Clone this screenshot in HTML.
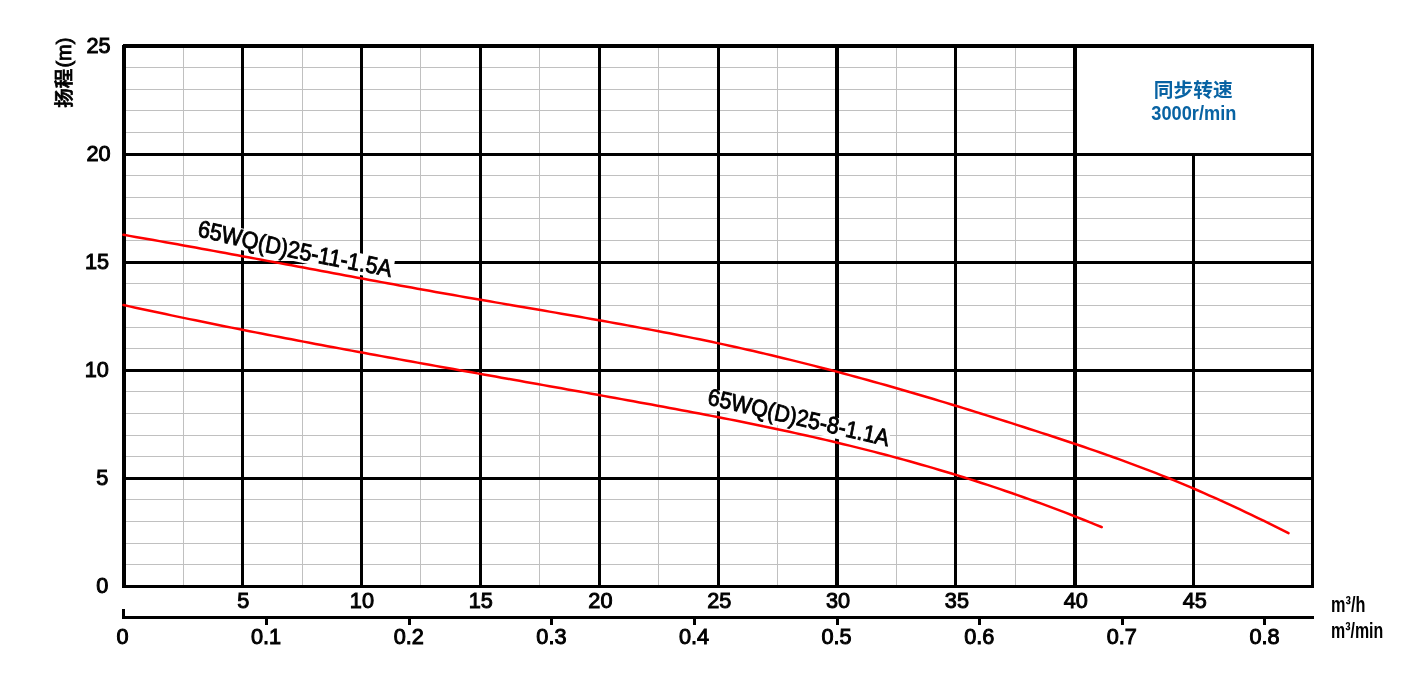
<!DOCTYPE html><html><head><meta charset="utf-8"><title>65WQ(D)25 performance curve</title>
<style>html,body{margin:0;padding:0;background:#fff;}body{width:1406px;height:678px;overflow:hidden;}svg{display:block;}text{font-family:"Liberation Sans","Noto Sans CJK SC",sans-serif;}</style></head><body>
<svg width="1406" height="678" viewBox="0 0 1406 678">
<rect width="1406" height="678" fill="#fff"/>
<g fill="#c0c0c0" shape-rendering="crispEdges"><rect x="183" y="48" width="1" height="537"/><rect x="302" y="48" width="1" height="537"/><rect x="420" y="48" width="1" height="537"/><rect x="539" y="48" width="1" height="537"/><rect x="658" y="48" width="1" height="537"/><rect x="777" y="48" width="1" height="537"/><rect x="896" y="48" width="1" height="537"/><rect x="1015" y="48" width="1" height="537"/><rect x="126" y="564" width="1185" height="1"/><rect x="126" y="543" width="1185" height="1"/><rect x="126" y="521" width="1185" height="1"/><rect x="126" y="499" width="1185" height="1"/><rect x="126" y="456" width="1185" height="1"/><rect x="126" y="435" width="1185" height="1"/><rect x="126" y="413" width="1185" height="1"/><rect x="126" y="391" width="1185" height="1"/><rect x="126" y="348" width="1185" height="1"/><rect x="126" y="327" width="1185" height="1"/><rect x="126" y="305" width="1185" height="1"/><rect x="126" y="283" width="1185" height="1"/><rect x="126" y="240" width="1185" height="1"/><rect x="126" y="218" width="1185" height="1"/><rect x="126" y="197" width="1185" height="1"/><rect x="126" y="175" width="1185" height="1"/><rect x="126" y="132" width="947" height="1"/><rect x="126" y="110" width="947" height="1"/><rect x="126" y="89" width="947" height="1"/><rect x="126" y="67" width="947" height="1"/></g>
<g fill="#000" shape-rendering="crispEdges"><rect x="241" y="44" width="3" height="544"/><rect x="360" y="44" width="3" height="544"/><rect x="479" y="44" width="3" height="544"/><rect x="598" y="44" width="3" height="544"/><rect x="717" y="44" width="3" height="544"/><rect x="835" y="44" width="4" height="544"/><rect x="954" y="44" width="3" height="544"/><rect x="1073" y="44" width="4" height="544"/><rect x="1192" y="153" width="3" height="435"/><rect x="122" y="153" width="1192" height="3"/><rect x="122" y="261" width="1192" height="3"/><rect x="122" y="369" width="1192" height="3"/><rect x="122" y="477" width="1192" height="3"/><rect x="123" y="44" width="1191" height="4"/><rect x="122" y="45" width="4" height="543"/><rect x="1311" y="44" width="3" height="544"/><rect x="123" y="585" width="1191" height="3"/><rect x="122" y="616" width="1192" height="3"/><rect x="122" y="609" width="3" height="8"/><rect x="265" y="618" width="3" height="7"/><rect x="408" y="618" width="3" height="7"/><rect x="550" y="618" width="3" height="7"/><rect x="693" y="618" width="3" height="7"/><rect x="836" y="618" width="3" height="7"/><rect x="978" y="618" width="3" height="7"/><rect x="1121" y="618" width="3" height="7"/><rect x="1263" y="618" width="3" height="7"/></g>
<g transform="translate(197.00,236.10) scale(0.910,1) rotate(10.80)"><rect x="2.00" y="-16.80" width="216.22" height="21.40" fill="#fff"/></g>
<g transform="translate(706.70,404.30) scale(0.910,1) rotate(11.90)"><rect x="0.50" y="-16.40" width="202.77" height="20.70" fill="#fff"/></g>
<g fill="none" stroke="#ff0000" stroke-width="2.5" stroke-linecap="round" stroke-linejoin="round">
<path d="M123.5,234.83 L129.5,235.86 L135.5,236.90 L141.5,237.94 L147.5,238.99 L153.5,240.05 L159.5,241.11 L165.5,242.18 L171.5,243.25 L177.5,244.32 L183.5,245.40 L189.5,246.49 L195.5,247.57 L201.5,248.67 L207.5,249.76 L213.5,250.86 L219.5,251.96 L225.5,253.07 L231.5,254.17 L237.5,255.28 L243.5,256.40 L249.5,257.51 L255.5,258.63 L261.5,259.74 L267.5,260.86 L273.5,261.98 L279.5,263.11 L285.5,264.23 L291.5,265.35 L297.5,266.47 L303.5,267.60 L309.5,268.72 L315.5,269.84 L321.5,270.97 L327.5,272.09 L333.5,273.21 L339.5,274.33 L345.5,275.44 L351.5,276.56 L357.5,277.68 L363.5,278.79 L369.5,279.90 L375.5,281.01 L381.5,282.11 L387.5,283.21 L393.5,284.31 L399.5,285.41 L405.5,286.50 L411.5,287.59 L417.5,288.67 L423.5,289.75 L429.5,290.83 L435.5,291.90 L441.5,292.97 L447.5,294.03 L453.5,295.08 L459.5,296.14 L465.5,297.18 L471.5,298.22 L477.5,299.26 L483.5,300.30 L489.5,301.33 L495.5,302.36 L501.5,303.39 L507.5,304.42 L513.5,305.44 L519.5,306.47 L525.5,307.49 L531.5,308.52 L537.5,309.55 L543.5,310.58 L549.5,311.61 L555.5,312.64 L561.5,313.68 L567.5,314.71 L573.5,315.76 L579.5,316.80 L585.5,317.86 L591.5,318.91 L597.5,319.97 L603.5,321.04 L609.5,322.12 L615.5,323.20 L621.5,324.29 L627.5,325.39 L633.5,326.49 L639.5,327.61 L645.5,328.73 L651.5,329.86 L657.5,331.01 L663.5,332.16 L669.5,333.33 L675.5,334.50 L681.5,335.69 L687.5,336.89 L693.5,338.11 L699.5,339.34 L705.5,340.58 L711.5,341.84 L717.5,343.11 L723.5,344.40 L729.5,345.70 L735.5,347.02 L741.5,348.35 L747.5,349.71 L753.5,351.07 L759.5,352.46 L765.5,353.86 L771.5,355.28 L777.5,356.72 L783.5,358.17 L789.5,359.63 L795.5,361.12 L801.5,362.61 L807.5,364.13 L813.5,365.65 L819.5,367.20 L825.5,368.75 L831.5,370.32 L837.5,371.91 L843.5,373.51 L849.5,375.12 L855.5,376.75 L861.5,378.39 L867.5,380.04 L873.5,381.70 L879.5,383.38 L885.5,385.07 L891.5,386.78 L897.5,388.49 L903.5,390.22 L909.5,391.96 L915.5,393.71 L921.5,395.47 L927.5,397.25 L933.5,399.03 L939.5,400.83 L945.5,402.64 L951.5,404.45 L957.5,406.28 L963.5,408.12 L969.5,409.97 L975.5,411.82 L981.5,413.69 L987.5,415.57 L993.5,417.45 L999.5,419.34 L1005.5,421.25 L1011.5,423.16 L1017.5,425.08 L1023.5,427.01 L1029.5,428.94 L1035.5,430.89 L1041.5,432.84 L1047.5,434.80 L1053.5,436.76 L1059.5,438.74 L1065.5,440.73 L1071.5,442.74 L1077.5,444.76 L1083.5,446.79 L1089.5,448.84 L1095.5,450.91 L1101.5,453.00 L1107.5,455.12 L1113.5,457.25 L1119.5,459.41 L1125.5,461.60 L1131.5,463.81 L1137.5,466.05 L1143.5,468.32 L1149.5,470.62 L1155.5,472.95 L1161.5,475.32 L1167.5,477.72 L1173.5,480.16 L1179.5,482.63 L1185.5,485.14 L1191.5,487.69 L1197.5,490.27 L1203.5,492.88 L1209.5,495.53 L1215.5,498.21 L1221.5,500.92 L1227.5,503.66 L1233.5,506.44 L1239.5,509.24 L1245.5,512.07 L1251.5,514.93 L1257.5,517.82 L1263.5,520.74 L1269.5,523.68 L1275.5,526.65 L1281.5,529.64 L1287.5,532.66 L1288.5,533.17"/>
<path d="M123.5,305.04 L129.5,306.35 L135.5,307.66 L141.5,308.96 L147.5,310.25 L153.5,311.54 L159.5,312.81 L165.5,314.09 L171.5,315.35 L177.5,316.61 L183.5,317.86 L189.5,319.10 L195.5,320.34 L201.5,321.57 L207.5,322.79 L213.5,324.01 L219.5,325.22 L225.5,326.43 L231.5,327.63 L237.5,328.82 L243.5,330.01 L249.5,331.19 L255.5,332.37 L261.5,333.55 L267.5,334.72 L273.5,335.88 L279.5,337.04 L285.5,338.19 L291.5,339.34 L297.5,340.49 L303.5,341.63 L309.5,342.76 L315.5,343.90 L321.5,345.02 L327.5,346.15 L333.5,347.27 L339.5,348.39 L345.5,349.50 L351.5,350.61 L357.5,351.72 L363.5,352.82 L369.5,353.92 L375.5,355.02 L381.5,356.12 L387.5,357.21 L393.5,358.30 L399.5,359.39 L405.5,360.48 L411.5,361.56 L417.5,362.64 L423.5,363.72 L429.5,364.80 L435.5,365.88 L441.5,366.95 L447.5,368.03 L453.5,369.10 L459.5,370.17 L465.5,371.24 L471.5,372.31 L477.5,373.38 L483.5,374.45 L489.5,375.52 L495.5,376.59 L501.5,377.65 L507.5,378.72 L513.5,379.79 L519.5,380.85 L525.5,381.92 L531.5,382.99 L537.5,384.06 L543.5,385.12 L549.5,386.19 L555.5,387.26 L561.5,388.33 L567.5,389.41 L573.5,390.48 L579.5,391.55 L585.5,392.63 L591.5,393.71 L597.5,394.79 L603.5,395.87 L609.5,396.95 L615.5,398.04 L621.5,399.12 L627.5,400.21 L633.5,401.30 L639.5,402.40 L645.5,403.49 L651.5,404.59 L657.5,405.70 L663.5,406.81 L669.5,407.92 L675.5,409.04 L681.5,410.16 L687.5,411.29 L693.5,412.42 L699.5,413.56 L705.5,414.71 L711.5,415.87 L717.5,417.03 L723.5,418.20 L729.5,419.38 L735.5,420.58 L741.5,421.78 L747.5,422.99 L753.5,424.21 L759.5,425.44 L765.5,426.69 L771.5,427.95 L777.5,429.22 L783.5,430.50 L789.5,431.80 L795.5,433.11 L801.5,434.44 L807.5,435.78 L813.5,437.13 L819.5,438.51 L825.5,439.89 L831.5,441.30 L837.5,442.72 L843.5,444.16 L849.5,445.62 L855.5,447.10 L861.5,448.59 L867.5,450.11 L873.5,451.65 L879.5,453.20 L885.5,454.78 L891.5,456.38 L897.5,457.99 L903.5,459.63 L909.5,461.30 L915.5,462.98 L921.5,464.68 L927.5,466.41 L933.5,468.16 L939.5,469.93 L945.5,471.72 L951.5,473.54 L957.5,475.38 L963.5,477.24 L969.5,479.13 L975.5,481.04 L981.5,482.97 L987.5,484.93 L993.5,486.92 L999.5,488.92 L1005.5,490.95 L1011.5,493.01 L1017.5,495.09 L1023.5,497.20 L1029.5,499.34 L1035.5,501.50 L1041.5,503.68 L1047.5,505.89 L1053.5,508.13 L1059.5,510.40 L1065.5,512.69 L1071.5,515.01 L1077.5,517.36 L1083.5,519.73 L1089.5,522.13 L1095.5,524.56 L1101.5,527.02 L1101.8,527.14"/>
</g>
<text transform="translate(197.00,236.10) scale(0.910,1) rotate(10.80)" font-size="23.8" fill="#000" stroke="#000" stroke-width="0.85" dy="0.18 0.32 0.36 0.32 0.15 0.10 0.06 0.02 -0.02 -0.04 -0.07 -0.13 -0.14 -0.16 -0.18 -0.20 -0.34">65WQ(D)25-11-1.5A</text>
<text transform="translate(706.70,404.30) scale(0.910,1) rotate(11.90)" font-size="23.6" fill="#000" stroke="#000" stroke-width="0.85">65WQ(D)25-8-1.1A</text>
<g font-size="22.6" fill="#000" stroke="#000" stroke-width="1.0"><text transform="translate(108.4,592.9) scale(0.960,1)" text-anchor="end">0</text><text transform="translate(108.4,484.9) scale(0.960,1)" text-anchor="end">5</text><text transform="translate(108.9,376.9) scale(0.960,1)" text-anchor="end">10</text><text transform="translate(109.1,268.9) scale(0.960,1)" text-anchor="end">15</text><text transform="translate(110.6,160.9) scale(0.960,1)" text-anchor="end">20</text><text transform="translate(110.6,52.9) scale(0.960,1)" text-anchor="end">25</text></g>
<g font-size="22.6" fill="#000" stroke="#000" stroke-width="1.0"><text transform="translate(243.2,608.2) scale(0.960,1)" text-anchor="middle">5</text><text transform="translate(361.9,608.2) scale(0.960,1)" text-anchor="middle">10</text><text transform="translate(480.8,608.2) scale(0.960,1)" text-anchor="middle">15</text><text transform="translate(600.4,608.2) scale(0.960,1)" text-anchor="middle">20</text><text transform="translate(719.2,608.2) scale(0.960,1)" text-anchor="middle">25</text><text transform="translate(838.1,608.2) scale(0.960,1)" text-anchor="middle">30</text><text transform="translate(956.9,608.2) scale(0.960,1)" text-anchor="middle">35</text><text transform="translate(1075.8,608.2) scale(0.960,1)" text-anchor="middle">40</text><text transform="translate(1194.7,608.2) scale(0.960,1)" text-anchor="middle">45</text><text transform="translate(122.6,644.0) scale(0.960,1)" text-anchor="middle">0</text><text transform="translate(266.1,644.0) scale(0.960,1)" text-anchor="middle">0.1</text><text transform="translate(408.7,644.0) scale(0.960,1)" text-anchor="middle">0.2</text><text transform="translate(551.4,644.0) scale(0.960,1)" text-anchor="middle">0.3</text><text transform="translate(694.0,644.0) scale(0.960,1)" text-anchor="middle">0.4</text><text transform="translate(836.6,644.0) scale(0.960,1)" text-anchor="middle">0.5</text><text transform="translate(979.2,644.0) scale(0.960,1)" text-anchor="middle">0.6</text><text transform="translate(1121.8,644.0) scale(0.960,1)" text-anchor="middle">0.7</text><text transform="translate(1264.5,644.0) scale(0.960,1)" text-anchor="middle">0.8</text></g>
<text transform="translate(1331,612.3) scale(0.74,1)" font-size="22" font-weight="bold" fill="#000">m³/h</text>
<text transform="translate(1331,638.1) scale(0.725,1)" font-size="22" font-weight="bold" fill="#000">m³/min</text>
<text transform="translate(70.7,107.8) rotate(-90)" font-size="19.5" font-weight="500" fill="#000" stroke="#000" stroke-width="0.7" font-family="'Liberation Sans','Noto Sans CJK SC',sans-serif">扬程</text>
<text transform="translate(71.1,67.6) rotate(-90) scale(0.95,1)" font-size="21" fill="#000" stroke="#000" stroke-width="0.9">(m)</text>
<text transform="translate(1193.2,97.1)" text-anchor="middle" font-size="19.7" font-weight="bold" fill="#0863a3">同步转速</text>
<text transform="translate(1193.8,119.6) scale(0.93,1)" text-anchor="middle" font-size="19.6" font-weight="bold" fill="#0863a3">3000r/min</text>
</svg></body></html>
